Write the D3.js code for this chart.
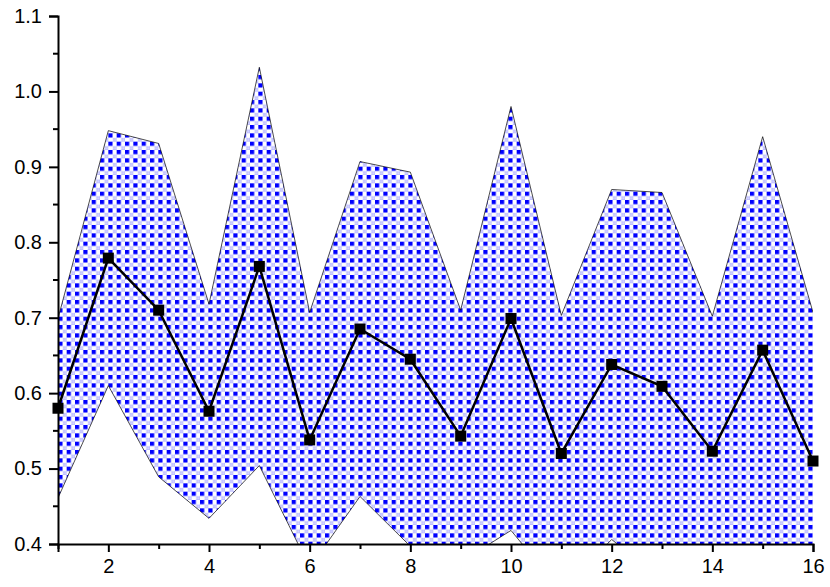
<!DOCTYPE html>
<html lang="en">
<head>
  <meta charset="UTF-8">
  <title>Mean with error band</title>
  <script src="https://cdnjs.cloudflare.com/ajax/libs/d3/7.8.5/d3.min.js"></script>
  <style>
    body { margin: 0; background: #fff; }
    .axis path, .axis line { stroke: #000; stroke-width: 2px; }
    .axis text { font-size: 20px; font-family: "Liberation Sans", Arial, sans-serif; fill: #000; }
    .band-edge { fill: none; stroke: #000; stroke-width: 0.7px; }
    .mean-line { fill: none; stroke: #000; stroke-width: 2.5px; }
  </style>
</head>
<body>
  <div id="chart"></div>
  <script>
    // data
    const xs = d3.range(1, 17);
    const means = [0.580, 0.779, 0.710, 0.576, 0.768, 0.538, 0.685, 0.645,
                   0.543, 0.699, 0.520, 0.638, 0.609, 0.523, 0.657, 0.510];
    const errs = [0.119, 0.169, 0.221, 0.142, 0.264, 0.169, 0.222, 0.248,
                  0.167, 0.281, 0.183, 0.232, 0.257, 0.179, 0.283, 0.197];
    const xTicks = d3.range(1, 17);
    const yMajor = [0.4, 0.5, 0.6, 0.7, 0.8, 0.9, 1.0, 1.1];
    const yMinor = [0.45, 0.55, 0.65, 0.75, 0.85, 0.95, 1.05];

    const width = 830;
    const height = 587;
    const margin = { top: 16, right: 17, bottom: 43, left: 58 };

    const data = xs.map((x, i) => ({ x: x, m: means[i], e: errs[i] }));

    const x = d3.scaleLinear().domain([1, 16]).range([margin.left, width - margin.right]);
    const y = d3.scaleLinear().domain([0.4, 1.1]).range([height - margin.bottom, margin.top]);

    const svg = d3.select("#chart").append("svg")
      .attr("width", width)
      .attr("height", height);

    const defs = svg.append("defs");

    // blue check pattern with light hash marks in between
    const cell = 25 / 3;
    const pat = defs.append("pattern")
      .attr("id", "check")
      .attr("patternUnits", "userSpaceOnUse")
      .attr("width", cell)
      .attr("height", cell);
    pat.append("rect").attr("width", cell).attr("height", cell).attr("fill", "#fff");
    pat.append("rect").attr("x", 0).attr("y", 0).attr("width", 4.2).attr("height", 4.2).attr("fill", "#0000ff");
    const hash = "M5.6,4.3V8.3M7.6,4.3V8.3M4.3,5.6H8.3M4.3,7.6H8.3";
    pat.append("path").attr("d", hash).attr("stroke", "#b4b4ff").attr("stroke-width", 1).attr("fill", "none");

    defs.append("clipPath").attr("id", "plot-clip")
      .append("rect")
      .attr("x", margin.left)
      .attr("y", margin.top)
      .attr("width", width - margin.left - margin.right)
      .attr("height", height - margin.top - margin.bottom);

    const plot = svg.append("g").attr("clip-path", "url(#plot-clip)");

    const area = d3.area()
      .x(d => x(d.x))
      .y0(d => y(d.m - d.e))
      .y1(d => y(d.m + d.e));

    plot.append("path")
      .datum(data)
      .attr("d", area)
      .attr("fill", "url(#check)");

    plot.append("path")
      .datum(data)
      .attr("class", "band-edge")
      .attr("d", d3.line().x(d => x(d.x)).y(d => y(d.m + d.e)));

    plot.append("path")
      .datum(data)
      .attr("class", "band-edge")
      .attr("d", d3.line().x(d => x(d.x)).y(d => y(d.m - d.e)));

    svg.append("path")
      .datum(data)
      .attr("class", "mean-line")
      .attr("d", d3.line().x(d => x(d.x)).y(d => y(d.m)));

    svg.selectAll(".marker")
      .data(data)
      .join("rect")
      .attr("class", "marker")
      .attr("x", d => x(d.x) - 5.5)
      .attr("y", d => y(d.m) - 5.5)
      .attr("width", 11)
      .attr("height", 11)
      .attr("fill", "#000");

    // x axis: majors on even numbers, minors on odd
    const xAxis = svg.append("g")
      .attr("class", "axis")
      .attr("transform", `translate(0,${height - margin.bottom})`)
      .call(d3.axisBottom(x)
        .tickValues(xTicks)
        .tickSizeOuter(0)
        .tickSize(8)
        .tickPadding(7)
        .tickFormat(d => d % 2 === 0 ? d : ""));
    xAxis.selectAll(".tick line").attr("y2", d => d % 2 === 0 ? 8 : 5);

    // y axis
    const yAxis = svg.append("g")
      .attr("class", "axis")
      .attr("transform", `translate(${margin.left},0)`)
      .call(d3.axisLeft(y)
        .tickValues(yMajor)
        .tickSizeOuter(0)
        .tickSize(9)
        .tickPadding(7)
        .tickFormat(d3.format(".1f")));

    yAxis.selectAll(".minor")
      .data(yMinor)
      .join("line")
      .attr("class", "minor")
      .attr("x1", -5)
      .attr("x2", 0)
      .attr("y1", d => y(d))
      .attr("y2", d => y(d));
  </script>
</body>
</html>
